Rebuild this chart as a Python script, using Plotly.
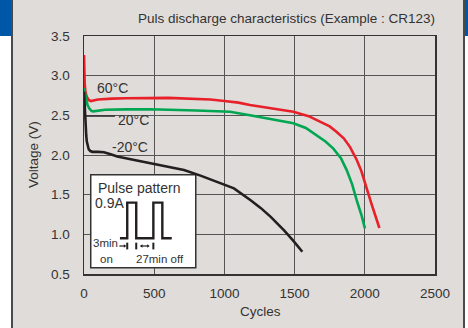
import plotly.graph_objects as go

# ---- data ----
red_x = [0, 2, 5, 10, 20, 35, 50, 75, 100, 200, 300, 600, 900, 1000, 1100, 1182, 1300, 1400, 1491, 1600, 1681, 1750, 1800, 1850, 1895, 1942, 1975, 2001, 2050, 2104]
red_y = [3.26, 3.05, 2.90, 2.80, 2.73, 2.69, 2.68, 2.69, 2.70, 2.71, 2.715, 2.72, 2.70, 2.68, 2.66, 2.63, 2.60, 2.575, 2.545, 2.49, 2.42, 2.36, 2.29, 2.21, 2.10, 1.94, 1.80, 1.64, 1.37, 1.08]

green_x = [0, 8, 15, 25, 40, 55, 66, 100, 150, 300, 470, 800, 1040, 1182, 1300, 1400, 1491, 1580, 1657, 1720, 1776, 1830, 1871, 1910, 1942, 1975, 2001]
green_y = [2.84, 2.76, 2.70, 2.63, 2.58, 2.555, 2.55, 2.56, 2.57, 2.575, 2.576, 2.56, 2.545, 2.50, 2.46, 2.43, 2.40, 2.34, 2.25, 2.17, 2.08, 1.96, 1.81, 1.63, 1.43, 1.25, 1.076]

black_x = [0, 4, 8, 12, 16, 20, 26, 34, 45, 60, 100, 142, 190, 237, 350, 475, 600, 712, 830, 950, 1068, 1187, 1260, 1330, 1425, 1490, 1555]
black_y = [2.80, 2.62, 2.46, 2.33, 2.24, 2.17, 2.11, 2.07, 2.05, 2.04, 2.04, 2.035, 2.01, 1.98, 1.94, 1.895, 1.855, 1.81, 1.74, 1.66, 1.58, 1.43, 1.33, 1.22, 1.05, 0.92, 0.78]

x_ticks = [0, 500, 1000, 1500, 2000, 2500]
y_ticks = [0.5, 1.0, 1.5, 2.0, 2.5, 3.0, 3.5]
y_tick_text = ["0.5", "1.0", "1.5", "2.0", "2.5", "3.0", "3.5"]

series_names = ["60°C", "20°C", "-20°C"]
series_colors = ["#e8202a", "#00a651", "#231f20"]

# pulse pattern inset (in data units)
pulse_x = [256, 308, 308, 372, 372, 494, 494, 558, 558, 625]
pulse_y = [0.95, 0.95, 1.40, 1.40, 0.95, 0.95, 1.40, 1.40, 0.95, 0.95]

W, H = 468, 328
L, R, T, B = 84, 33, 36, 54
PW, PH = W - L - R, H - T - B


def px(xp):
    return (xp - L) / PW


def py(yp):
    return (H - B - yp) / PH


font_fam = "Liberation Sans, Arial, sans-serif"
narrow = "Liberation Sans Narrow, Arial Narrow, Liberation Sans, Arial, sans-serif"
txt = "#333333"

fig = go.Figure()
for xs, ys, name, col in zip([red_x, green_x, black_x], [red_y, green_y, black_y], series_names, series_colors):
    fig.add_trace(go.Scatter(x=xs, y=ys, mode="lines", name=name,
                             line=dict(color=col, width=2.6),
                             showlegend=False, hoverinfo="skip"))

fig.add_trace(go.Scatter(x=pulse_x, y=pulse_y, mode="lines", line=dict(color="#231f20", width=2.4),
                         showlegend=False, hoverinfo="skip"))

shapes = []
# blue top band, gray panel, borders
shapes.append(dict(type="rect", xref="paper", yref="paper", x0=px(-5), x1=px(W + 5), y0=py(36), y1=py(-5),
                   fillcolor="#0057a8", line=dict(width=0), layer="below"))
shapes.append(dict(type="rect", xref="paper", yref="paper", x0=px(12), x1=px(464), y0=py(H + 5), y1=py(-5),
                   fillcolor="#e0dcd9", line=dict(width=0), layer="below"))
for xp in (12, 464):
    shapes.append(dict(type="line", xref="paper", yref="paper", x0=px(xp), x1=px(xp), y0=py(H + 5), y1=py(-5),
                       line=dict(color="#4a4a4a", width=2), layer="below"))

# inset box (between grid and traces)
shapes.append(dict(type="rect", xref="x", yref="y", x0=48, x1=796, y0=0.58, y1=1.75,
                   fillcolor="white", line=dict(color="#333333", width=1.5), layer="between"))
# 20°C leader line
shapes.append(dict(type="line", xref="x", yref="y", x0=0, x1=221, y0=2.49, y1=2.49,
                   line=dict(color="#231f20", width=1.2), layer="above"))
# tick marks under pulses
for xv in (308, 372, 494):
    shapes.append(dict(type="line", xref="x", yref="y", x0=xv, x1=xv, y0=0.81, y1=0.895,
                       line=dict(color="#231f20", width=2), layer="above"))
# arrows
shapes.append(dict(type="line", xref="x", yref="y", x0=252, x1=290, y0=0.853, y1=0.853,
                   line=dict(color="#231f20", width=1.2), layer="above"))
shapes.append(dict(type="path", xref="x", yref="y", path="M 284 0.875 L 302 0.853 L 284 0.831 Z",
                   fillcolor="#231f20", line=dict(width=0), layer="above"))
shapes.append(dict(type="line", xref="x", yref="y", x0=405, x1=460, y0=0.853, y1=0.853,
                   line=dict(color="#231f20", width=1.2), layer="above"))
shapes.append(dict(type="path", xref="x", yref="y", path="M 416 0.875 L 398 0.853 L 416 0.831 Z",
                   fillcolor="#231f20", line=dict(width=0), layer="above"))
shapes.append(dict(type="path", xref="x", yref="y", path="M 450 0.875 L 468 0.853 L 450 0.831 Z",
                   fillcolor="#231f20", line=dict(width=0), layer="above"))

annotations = [
    dict(text="Puls discharge characteristics (Example : CR123)", xref="paper", yref="paper",
         x=px(437), y=py(18), xanchor="right", yanchor="middle", showarrow=False,
         font=dict(family=font_fam, size=13.5, color=txt)),
    dict(text="Cycles", xref="paper", yref="paper", x=px(260), y=py(312), xanchor="center",
         yanchor="middle", showarrow=False, font=dict(family=font_fam, size=13.5, color=txt)),
    dict(text="Voltage (V)", xref="paper", yref="paper", x=px(33), y=py(154), xanchor="center",
         yanchor="middle", textangle=-90, showarrow=False, font=dict(family=font_fam, size=13.5, color=txt)),
    dict(text="60°C", x=200, y=2.845, xref="x", yref="y", showarrow=False,
         font=dict(family=font_fam, size=14, color=txt)),
    dict(text="20°C", x=356, y=2.44, xref="x", yref="y", showarrow=False,
         font=dict(family=font_fam, size=14, color=txt)),
    dict(text="-20°C", x=328, y=2.10, xref="x", yref="y", showarrow=False,
         font=dict(family=font_fam, size=14, color=txt)),
    dict(text="Pulse pattern", x=392, y=1.584, xref="x", yref="y", showarrow=False,
         font=dict(family=font_fam, size=14, color=txt)),
    dict(text="0.9A", x=185, y=1.395, xref="x", yref="y", showarrow=False,
         font=dict(family=font_fam, size=14, color=txt)),
    dict(text="3min", x=155, y=0.885, xref="x", yref="y", showarrow=False,
         font=dict(family=narrow, size=11.5, color=txt)),
    dict(text="on", x=163, y=0.69, xref="x", yref="y", showarrow=False,
         font=dict(family=narrow, size=11.5, color=txt)),
    dict(text="27min off", x=541, y=0.69, xref="x", yref="y", showarrow=False,
         font=dict(family=narrow, size=11.5, color=txt)),
]

fig.update_layout(
    width=W, height=H,
    margin=dict(l=L, r=R, t=T, b=B, pad=0, autoexpand=False),
    paper_bgcolor="white", plot_bgcolor="white",
    shapes=shapes, annotations=annotations,
    font=dict(family=font_fam, size=13.5, color=txt),
    hovermode=False,
    xaxis=dict(range=[0, 2500], tickvals=x_ticks, showgrid=True, gridcolor="#555555", gridwidth=1,
               showline=True, linecolor="#333333", linewidth=1.5, mirror=True, zeroline=False,
               ticks="", ticklabelstandoff=6, automargin=False, fixedrange=True),
    yaxis=dict(range=[0.5, 3.5], tickvals=y_ticks, ticktext=y_tick_text, showgrid=True,
               gridcolor="#555555", gridwidth=1,
               showline=True, linecolor="#333333", linewidth=1.5, mirror=True, zeroline=False,
               ticks="", ticklabelstandoff=10, automargin=False, fixedrange=True),
)

fig.write_html("out.html", config={"displayModeBar": False, "staticPlot": True},
               post_script="document.body.style.margin='0';document.body.style.padding='0';")
